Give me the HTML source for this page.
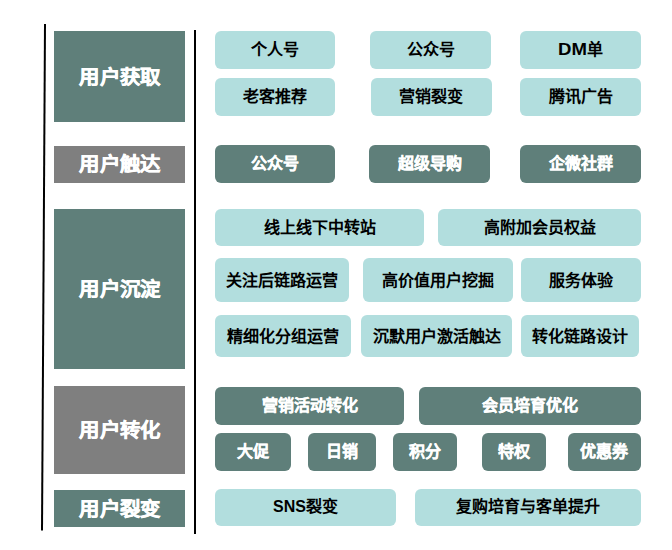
<!DOCTYPE html>
<html lang="zh-CN"><head><meta charset="utf-8">
<style>
html,body{margin:0;padding:0;background:#fff;}
body{width:672px;height:550px;position:relative;overflow:hidden;font-family:"Liberation Sans",sans-serif;font-weight:bold;}
.b{position:absolute;display:flex;align-items:center;justify-content:center;white-space:nowrap;}
.b>span{position:relative;display:inline-block;}
.lab{color:#fff;font-size:20px;-webkit-text-stroke:0.5px #fff;}
.lab>span{transform:scale(1.02,0.97);}
.r{border-radius:6px;font-size:16px;}
.l{background:#b2dede;color:#000;}
.d{background:#5f7f7a;color:#fff;-webkit-text-stroke:0.3px #fff;}
.dm{display:inline-block;transform:scaleX(1.16);transform-origin:left center;margin-right:4px;}
svg{position:absolute;left:0;top:0;}
</style></head><body>
<svg width="672" height="550"><line x1="45" y1="24" x2="42" y2="530.5" stroke="#000" stroke-width="2"/>
<rect x="194" y="30" width="2" height="504" fill="#000"/></svg>

<div class="b lab" style="left:54px;top:31px;width:131px;height:90.5px;background:#5f7f7a"><span style="top:-0.5px">用户获取</span></div>
<div class="b lab" style="left:54px;top:146px;width:131px;height:37px;background:#7f7f7f"><span style="top:-2px">用户触达</span></div>
<div class="b lab" style="left:54px;top:209px;width:131px;height:160px;background:#5f7f7a"><span style="top:-1.5px">用户沉淀</span></div>
<div class="b lab" style="left:54px;top:386px;width:131px;height:88px;background:#7f7f7f"><span style="top:-1.5px">用户转化</span></div>
<div class="b lab" style="left:54px;top:490px;width:131px;height:37px;background:#5f7f7a"><span style="top:-1px">用户裂变</span></div>
<div class="b r l" style="left:215px;top:31px;width:120px;height:38px"><span style="top:-2px">个人号</span></div>
<div class="b r l" style="left:370px;top:31px;width:121px;height:38px"><span style="top:-2px">公众号</span></div>
<div class="b r l" style="left:520px;top:31px;width:121px;height:38px"><span style="top:-2px"><span class="dm">DM</span>单</span></div>
<div class="b r l" style="left:215px;top:78px;width:120px;height:38px"><span style="top:-2px">老客推荐</span></div>
<div class="b r l" style="left:371px;top:78px;width:120.5px;height:38px"><span style="top:-2px">营销裂变</span></div>
<div class="b r l" style="left:520px;top:78px;width:121px;height:38px"><span style="top:-2px">腾讯广告</span></div>
<div class="b r d" style="left:215px;top:145px;width:120px;height:38px"><span style="top:-2px">公众号</span></div>
<div class="b r d" style="left:369px;top:145px;width:121px;height:38px"><span style="top:-2px">超级导购</span></div>
<div class="b r d" style="left:520px;top:145px;width:121px;height:38px"><span style="top:-2px">企微社群</span></div>
<div class="b r l" style="left:215px;top:209px;width:209px;height:37px"><span style="top:-2px">线上线下中转站</span></div>
<div class="b r l" style="left:438px;top:209px;width:203px;height:37px"><span style="top:-2px">高附加会员权益</span></div>
<div class="b r l" style="left:215px;top:258px;width:134px;height:43.5px"><span style="top:-1px">关注后链路运营</span></div>
<div class="b r l" style="left:363px;top:258px;width:149.5px;height:43.5px"><span style="top:-1px">高价值用户挖掘</span></div>
<div class="b r l" style="left:521px;top:258px;width:120px;height:43.5px"><span style="top:-1px">服务体验</span></div>
<div class="b r l" style="left:215px;top:315px;width:136px;height:42px"><span style="top:-1.2px">精细化分组运营</span></div>
<div class="b r l" style="left:361px;top:315px;width:151px;height:42px"><span style="top:-1.2px">沉默用户激活触达</span></div>
<div class="b r l" style="left:521px;top:315px;width:118px;height:42px"><span style="top:-1.2px">转化链路设计</span></div>
<div class="b r d" style="left:215px;top:387px;width:189px;height:37.5px"><span style="top:-2px">营销活动转化</span></div>
<div class="b r d" style="left:419px;top:387px;width:222px;height:37.5px"><span style="top:-2px">会员培育优化</span></div>
<div class="b r d" style="left:215px;top:433px;width:76px;height:37.5px"><span style="top:-2px">大促</span></div>
<div class="b r d" style="left:308px;top:433px;width:68px;height:37.5px"><span style="top:-2px">日销</span></div>
<div class="b r d" style="left:393px;top:433px;width:63.5px;height:37.5px"><span style="top:-2px">积分</span></div>
<div class="b r d" style="left:482px;top:433px;width:64px;height:37.5px"><span style="top:-2px">特权</span></div>
<div class="b r d" style="left:568px;top:433px;width:72.5px;height:37.5px"><span style="top:-2px">优惠券</span></div>
<div class="b r l" style="left:215px;top:489px;width:181px;height:36.700000000000045px"><span style="top:-2px">SNS裂变</span></div>
<div class="b r l" style="left:415px;top:489px;width:225.5px;height:36.700000000000045px"><span style="top:-2px">复购培育与客单提升</span></div>
</body></html>
